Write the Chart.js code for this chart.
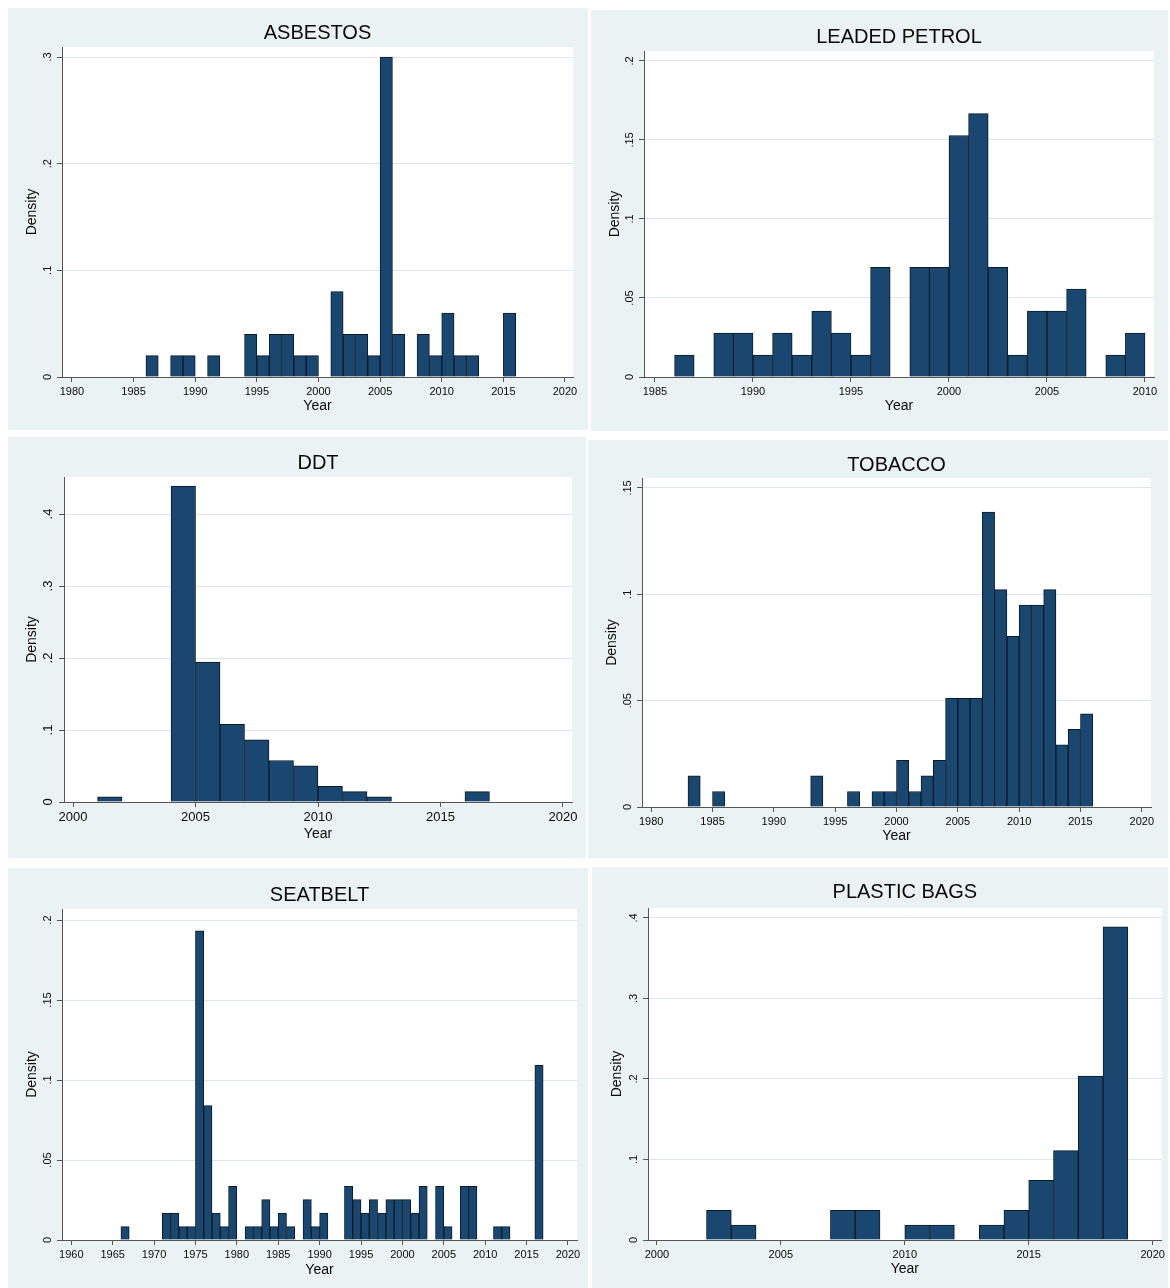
<!DOCTYPE html>
<html>
<head>
<meta charset="utf-8">
<title>Density of years by topic</title>
<script src="https://cdn.jsdelivr.net/npm/chart.js@4.4.1/dist/chart.umd.min.js"></script>
<style>
  html, body { margin: 0; padding: 0; background: #ffffff; }
  body { width: 1170px; height: 1288px; position: relative; overflow: hidden; }
  .panel { position: absolute; background: #eaf2f3; }
  .panel canvas { display: block; }
</style>
</head>
<body>
<div class="panel" style="left:8px;top:8px;width:580px;height:422px"><canvas id="asbestos" width="580" height="422"></canvas></div>
<div class="panel" style="left:591px;top:10px;width:577px;height:421px"><canvas id="leaded" width="577" height="421"></canvas></div>
<div class="panel" style="left:8px;top:437px;width:578px;height:421px"><canvas id="ddt" width="578" height="421"></canvas></div>
<div class="panel" style="left:588px;top:440px;width:580px;height:418px"><canvas id="tobacco" width="580" height="418"></canvas></div>
<div class="panel" style="left:8px;top:868px;width:580px;height:420px"><canvas id="seatbelt" width="580" height="420"></canvas></div>
<div class="panel" style="left:592px;top:867px;width:576px;height:421px"><canvas id="plastic" width="576" height="421"></canvas></div>

<script>
// ---- Histogram data: start year of each 1-year bin and its density ----
const asbestosYears   = [1986, 1988, 1989, 1991, 1994, 1995, 1996, 1997, 1998, 1999, 2001, 2002, 2003, 2004, 2005, 2006, 2008, 2009, 2010, 2011, 2012, 2015];
const asbestosDensity = [0.02, 0.02, 0.02, 0.02, 0.04, 0.02, 0.04, 0.04, 0.02, 0.02, 0.08, 0.04, 0.04, 0.02, 0.30, 0.04, 0.04, 0.02, 0.06, 0.02, 0.02, 0.06];

const leadedYears   = [1986, 1988, 1989, 1990, 1991, 1992, 1993, 1994, 1995, 1996, 1998, 1999, 2000, 2001, 2002, 2003, 2004, 2005, 2006, 2008, 2009];
const leadedDensity = [0.0139, 0.0278, 0.0278, 0.0139, 0.0278, 0.0139, 0.0417, 0.0278, 0.0139, 0.0694, 0.0694, 0.0694, 0.1528, 0.1667, 0.0694, 0.0139, 0.0417, 0.0417, 0.0556, 0.0139, 0.0278];

const ddtYears   = [2001, 2004, 2005, 2006, 2007, 2008, 2009, 2010, 2011, 2012, 2016];
const ddtDensity = [0.0072, 0.4388, 0.1942, 0.1079, 0.0863, 0.0576, 0.0504, 0.0216, 0.0144, 0.0072, 0.0144];

const tobaccoYears   = [1983, 1985, 1993, 1996, 1998, 1999, 2000, 2001, 2002, 2003, 2004, 2005, 2006, 2007, 2008, 2009, 2010, 2011, 2012, 2013, 2014, 2015];
const tobaccoDensity = [0.0146, 0.0073, 0.0146, 0.0073, 0.0073, 0.0073, 0.0219, 0.0073, 0.0146, 0.0219, 0.0511, 0.0511, 0.0511, 0.1387, 0.1022, 0.0803, 0.0949, 0.0949, 0.1022, 0.0292, 0.0365, 0.0438];

const seatbeltYears   = [1966, 1971, 1972, 1973, 1974, 1975, 1976, 1977, 1978, 1979, 1981, 1982, 1983, 1984, 1985, 1986, 1988, 1989, 1990, 1993, 1994, 1995, 1996, 1997, 1998, 1999, 2000, 2001, 2002, 2004, 2005, 2007, 2008, 2011, 2012, 2016];
const seatbeltDensity = [0.0084, 0.0168, 0.0168, 0.0084, 0.0084, 0.1933, 0.0840, 0.0168, 0.0084, 0.0336, 0.0084, 0.0084, 0.0252, 0.0084, 0.0168, 0.0084, 0.0252, 0.0084, 0.0168, 0.0336, 0.0252, 0.0168, 0.0252, 0.0168, 0.0252, 0.0252, 0.0252, 0.0168, 0.0336, 0.0336, 0.0084, 0.0336, 0.0336, 0.0084, 0.0084, 0.1092];

const plasticYears   = [2002, 2003, 2007, 2008, 2010, 2011, 2013, 2014, 2015, 2016, 2017, 2018];
const plasticDensity = [0.0370, 0.0185, 0.0370, 0.0370, 0.0185, 0.0185, 0.0185, 0.0370, 0.0741, 0.1111, 0.2037, 0.3889];

// ---- Axis ticks ----
const yearTicks1980 = [1980, 1985, 1990, 1995, 2000, 2005, 2010, 2015, 2020];
const yearTicks1985 = [1985, 1990, 1995, 2000, 2005, 2010];
const yearTicks2000 = [2000, 2005, 2010, 2015, 2020];
const yearTicks1960 = [1960, 1965, 1970, 1975, 1980, 1985, 1990, 1995, 2000, 2005, 2010, 2015, 2020];

const densityTicksTenths  = [0, 0.1, 0.2, 0.3];
const densityLabelsTenths = ['0', '.1', '.2', '.3'];
const densityTicksFour    = [0, 0.1, 0.2, 0.3, 0.4];
const densityLabelsFour   = ['0', '.1', '.2', '.3', '.4'];
const densityTicksTwenty  = [0, 0.05, 0.1, 0.15, 0.2];
const densityLabelsTwenty = ['0', '.05', '.1', '.15', '.2'];
const densityTicksFifteen = [0, 0.05, 0.1, 0.15];
const densityLabelsFifteen = ['0', '.05', '.1', '.15'];

// ---- Styling ----
const FONT = "'Liberation Sans', Arial, Helvetica, sans-serif";
const INK = '#0a0a0a';
const BAR_FILL = '#1a476f';
const BAR_EDGE = '#0c1a26';
const AXIS_COLOR = '#555555';
const GRID_COLOR = '#dde5e8';

Chart.defaults.font.family = FONT;
Chart.defaults.color = INK;

// White plotting region inside the tinted panel
const plotBackground = {
  id: 'plotBackground',
  beforeDraw(chart) {
    const { ctx, chartArea: a } = chart;
    ctx.save();
    ctx.fillStyle = '#ffffff';
    ctx.fillRect(a.left, a.top, a.right - a.left, a.bottom - a.top);
    ctx.restore();
  }
};

const measureCtx = document.createElement('canvas').getContext('2d');
function widestLabel(labels, size) {
  measureCtx.font = size + 'px ' + FONT;
  return Math.max(...labels.map(l => measureCtx.measureText(l).width));
}

function histogram(id, spec) {
  const canvas = document.getElementById(id);
  const W = canvas.width, H = canvas.height;
  const p = spec.plot;
  const tickSize = spec.tickSize || 11;
  const axisTitleSize = 14;
  const titleSize = 20;
  const titleLine = titleSize * 1.2;
  const xAxisH = spec.yearY + axisTitleSize * 0.6 - p.bottom;
  const yLabelPad = Math.max(0, 4 + tickSize / 2 - widestLabel(spec.yLabels, tickSize) / 2);

  const points = spec.years.map((yr, i) => ({ x: yr + 0.5, y: spec.density[i] }));

  return new Chart(canvas, {
    type: 'bar',
    data: {
      datasets: [{
        data: points,
        backgroundColor: BAR_FILL,
        borderColor: BAR_EDGE,
        borderWidth: 1,
        borderSkipped: 'start',
        barPercentage: 1,
        categoryPercentage: 1
      }]
    },
    options: {
      responsive: false,
      animation: false,
      devicePixelRatio: 1,
      events: [],
      layout: {
        padding: { left: 0, top: 0, right: W - p.right, bottom: H - p.bottom - xAxisH }
      },
      plugins: {
        legend: { display: false },
        tooltip: { enabled: false },
        title: {
          display: true,
          text: spec.title,
          fullSize: false,
          color: INK,
          font: { family: FONT, size: titleSize, weight: 'normal', lineHeight: 1.2 },
          padding: { top: spec.titleY - titleLine / 2, bottom: p.top - spec.titleY - titleLine / 2 }
        }
      },
      scales: {
        x: {
          type: 'linear',
          min: spec.xMin,
          max: spec.xMax,
          offset: false,
          grid: { offset: false, drawOnChartArea: false, drawTicks: true, tickLength: 5, tickColor: AXIS_COLOR, tickWidth: 1 },
          border: { display: true, color: AXIS_COLOR, width: 1 },
          ticks: {
            autoSkip: false, minRotation: 0, maxRotation: 0, padding: 3,
            color: INK, font: { family: FONT, size: tickSize },
            callback: (v, i) => String(spec.xTicks[i])
          },
          afterBuildTicks: s => { s.ticks = spec.xTicks.map(v => ({ value: v })); },
          afterFit: s => { s.height = xAxisH; },
          title: { display: true, text: 'Year', color: INK, font: { family: FONT, size: axisTitleSize, lineHeight: 1.2 }, padding: 0 }
        },
        y: {
          type: 'linear',
          min: 0,
          max: spec.yMax,
          grid: { color: GRID_COLOR, lineWidth: 1, drawTicks: true, tickLength: 5, tickColor: AXIS_COLOR, tickWidth: 1 },
          border: { display: true, color: AXIS_COLOR, width: 1 },
          ticks: {
            minRotation: 90, maxRotation: 90, crossAlign: 'center', padding: yLabelPad,
            color: INK, font: { family: FONT, size: tickSize },
            callback: (v, i) => spec.yLabels[i]
          },
          afterBuildTicks: s => { s.ticks = spec.yTicks.map(v => ({ value: v })); },
          afterFit: s => { s.width = p.left; },
          title: { display: true, text: 'Density', color: INK, font: { family: FONT, size: axisTitleSize, lineHeight: 1.2 },
                   padding: { top: spec.densityX - axisTitleSize * 0.6, bottom: 0 } }
        }
      }
    },
    plugins: [plotBackground]
  });
}

histogram('asbestos', {
  title: 'ASBESTOS', years: asbestosYears, density: asbestosDensity,
  xTicks: yearTicks1980, xMin: 1979.19, xMax: 2020.65,
  yTicks: densityTicksTenths, yLabels: densityLabelsTenths, yMax: 0.3094,
  plot: { left: 54, top: 39, right: 565, bottom: 369 },
  titleY: 25, yearY: 398, densityX: 24
});

histogram('leaded', {
  title: 'LEADED PETROL', years: leadedYears, density: leadedDensity,
  xTicks: yearTicks1985, xMin: 1984.44, xMax: 2010.46,
  yTicks: densityTicksTwenty, yLabels: densityLabelsTwenty, yMax: 0.2063,
  plot: { left: 53, top: 41, right: 563, bottom: 367 },
  titleY: 27, yearY: 396, densityX: 24
});

histogram('ddt', {
  title: 'DDT', years: ddtYears, density: ddtDensity,
  xTicks: yearTicks2000, xMin: 1999.63, xMax: 2020.37,
  yTicks: densityTicksFour, yLabels: densityLabelsFour, yMax: 0.4514,
  plot: { left: 56, top: 40, right: 564, bottom: 365 },
  titleY: 26, yearY: 397, densityX: 24, tickSize: 13
});

histogram('tobacco', {
  title: 'TOBACCO', years: tobaccoYears, density: tobaccoDensity,
  xTicks: yearTicks1980, xMin: 1979.25, xMax: 2020.75,
  yTicks: densityTicksFifteen, yLabels: densityLabelsFifteen, yMax: 0.1547,
  plot: { left: 54, top: 38, right: 563, bottom: 367 },
  titleY: 25, yearY: 396, densityX: 24
});

histogram('seatbelt', {
  title: 'SEATBELT', years: seatbeltYears, density: seatbeltDensity,
  xTicks: yearTicks1960, xMin: 1958.88, xMax: 2021.09,
  yTicks: densityTicksTwenty, yLabels: densityLabelsTwenty, yMax: 0.2069,
  plot: { left: 54, top: 41, right: 569, bottom: 372 },
  titleY: 27, yearY: 402, densityX: 24
});

histogram('plastic', {
  title: 'PLASTIC BAGS', years: plasticYears, density: plasticDensity,
  xTicks: yearTicks2000, xMin: 1999.64, xMax: 2020.36,
  yTicks: densityTicksFour, yLabels: densityLabelsFour, yMax: 0.4124,
  plot: { left: 56, top: 41, right: 574, bottom: 373 },
  titleY: 25, yearY: 402, densityX: 25
});
</script>
</body>
</html>
